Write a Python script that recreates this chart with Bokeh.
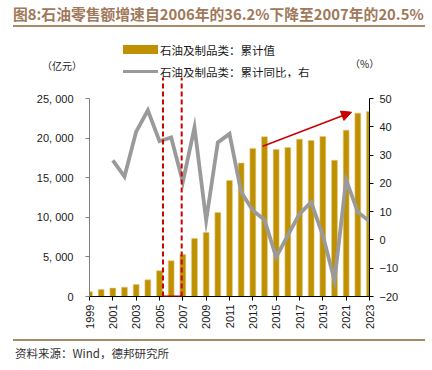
import math
from bokeh.plotting import figure
from bokeh.layouts import column
from bokeh.models import (Range1d, LinearAxis, Arrow, NormalHead, FixedTicker,
                          ColumnDataSource, Div)
from bokeh.embed import file_html
from bokeh.resources import INLINE

# ---------------- data ----------------
years = list(range(1999, 2024))
retail_value = [600, 890, 1060, 1180, 1520, 2100, 3250, 4500, 5300, 7320, 8080,
                10600, 14650, 16850, 18700, 20170, 18560, 18800, 19870, 19700,
                20200, 17200, 21000, 23150, 23360]
growth_years = list(range(2001, 2024))
yoy_growth = [28.1, 22.4, 38.3, 45.8, 34.9, 36.2, 20.5, 39.8, 6.9, 34.5, 37.5,
              16.9, 10.4, 7.1, -6.1, 1.6, 9.2, 13.3, 1.6, -14.3, 21.2, 9.8, 6.6]
left_ticks = [0, 5000, 10000, 15000, 20000, 25000]
left_tick_labels = ["0", "5, 000", "10, 000", "15, 000", "20, 000", "25, 000"]
right_ticks = [-20, -10, 0, 10, 20, 30, 40, 50]
right_tick_labels = ["\u221220", "\u221210", "0", "10", "20", "30", "40", "50"]
x_ticks = list(range(1999, 2024, 2))
title_text = "图8:石油零售额增速自2006年的36.2%下降至2007年的20.5%"
bar_label = "石油及制品类：累计值"
line_label = "石油及制品类：累计同比，右"
left_unit = "（亿元）"
right_unit = "（%）"
source_text = "资料来源：Wind，德邦研究所"
# highlighted window (2006 -> 2007) and trend arrow
box_x = [2005.3, 2006.9]
arrow_from = (2013.85, 18980)
arrow_to = (2021.46, 23270)

CJK = "Noto Sans CJK SC"
NUM = "Liberation Sans"
BAR_COLOR = "#BF9000"
LINE_COLOR = "#9A9A9A"
RED = "#C80000"
BROWN = "#A0785A"
RULE = "#A88A68"
TXT = "#1a1a1a"

# frame spans page y 77..296; 25000 / 50 sit at page y 98
left_top = 25000 * (296 - 77) / (296 - 98)
right_top = -20 + 70 * (296 - 77) / (296 - 98)
box_top = left_top


def pos(left, top, inner, extra=""):
    return (f'<div style="position:absolute;left:{left}px;top:{top}px;'
            f'white-space:nowrap;{extra}">{inner}</div>')


header_html = (
    f'<div style="position:relative;width:424px;height:77px;font-family:\'{CJK}\';'
    f'color:{TXT};">'
    + pos(13, 0, title_text,
          f"width:412px;height:27px;line-height:27px;border-bottom:2px solid {RULE};"
          f"font-weight:bold;font-size:14.8px;color:{BROWN};")
    + pos(123, 45.3, "", f"width:34.5px;height:9px;background:{BAR_COLOR};")
    + pos(160, 41.5, bar_label, "font-size:11.5px;line-height:16px;")
    + pos(123, 69.5, "", f"width:34.5px;height:3.2px;background:{LINE_COLOR};")
    + pos(160, 63.5, line_label, "font-size:11.5px;line-height:16px;")
    + pos(42, 58, left_unit, "font-size:10px;line-height:16px;")
    + pos(350, 55.5, right_unit, "font-size:10px;line-height:16px;")
    + '</div>')
header = Div(width=424, height=77, margin=0, text=header_html)

footer_html = (
    f'<div style="position:relative;width:424px;height:32px;font-family:\'{CJK}\';">'
    + pos(13, 1, "", f"width:412px;height:0px;border-top:2px solid {RULE};")
    + pos(15, 6.5, source_text, "font-size:11.5px;line-height:16px;color:#333333;")
    + '</div>')
footer = Div(width=424, height=32, margin=0, text=footer_html)

p = figure(width=424, height=261, x_range=Range1d(1999, 2023),
           y_range=Range1d(0, left_top), output_backend="svg",
           toolbar_location=None, min_border_left=89, min_border_right=55,
           min_border_top=0, min_border_bottom=42, margin=0)
p.extra_y_ranges = {"right": Range1d(-20, right_top)}
p.outline_line_color = None
p.xgrid.visible = False
p.ygrid.visible = False
p.background_fill_color = "white"
p.border_fill_color = "white"

src = ColumnDataSource(dict(x=years, top=retail_value))
bars = p.vbar(x="x", top="top", width=0.5, source=src, fill_color=BAR_COLOR,
              line_color="#E3C77A", line_width=0.6)
lsrc = ColumnDataSource(dict(x=growth_years, y=yoy_growth))
line = p.line(x="x", y="y", source=lsrc, y_range_name="right",
              line_color=LINE_COLOR, line_width=3.8, line_join="miter")

# axes
xa = p.xaxis[0]
xa.ticker = FixedTicker(ticks=x_ticks)
xa.major_label_orientation = math.pi / 2
xa.axis_line_color = "black"
xa.major_tick_line_color = "black"
xa.major_tick_out = 4
xa.major_tick_in = 0
xa.minor_tick_line_color = None
xa.major_label_text_font = NUM
xa.major_label_text_font_size = "11px"
xa.major_label_text_color = TXT
xa.major_label_standoff = 4

ya = p.yaxis[0]
ya.bounds = (0, 25000)
ya.ticker = FixedTicker(ticks=left_ticks)
ya.major_label_overrides = dict(zip(left_ticks, left_tick_labels))
ya.axis_line_color = "#7F7F7F"
ya.major_tick_line_color = "#7F7F7F"
ya.major_tick_out = 4
ya.major_tick_in = 0
ya.minor_tick_line_color = None
ya.major_label_text_font = NUM
ya.major_label_text_font_size = "11px"
ya.major_label_text_color = TXT
ya.major_label_standoff = 12

ra = LinearAxis(y_range_name="right", ticker=FixedTicker(ticks=right_ticks),
                bounds=(-20, 50))
ra.major_label_overrides = dict(zip(right_ticks, right_tick_labels))
ra.axis_line_color = "black"
ra.major_tick_line_color = "black"
ra.major_tick_out = 4
ra.major_tick_in = 0
ra.minor_tick_line_color = None
ra.major_label_text_font = NUM
ra.major_label_text_font_size = "11px"
ra.major_label_text_color = TXT
ra.major_label_standoff = 6
p.add_layout(ra, "right")

# red dashed window
for bx in box_x:
    p.add_layout(Arrow(end=None, x_start=bx, y_start=0, x_end=bx, y_end=box_top,
                       line_color=RED, line_width=2, line_dash="5 3"))
p.add_layout(Arrow(end=None, x_start=box_x[0], y_start=0, x_end=box_x[1], y_end=0,
                   line_color=RED, line_width=2))
# trend arrow
p.add_layout(Arrow(end=NormalHead(size=10, fill_color=RED, line_color=RED),
                   x_start=arrow_from[0], y_start=arrow_from[1],
                   x_end=arrow_to[0], y_end=arrow_to[1],
                   line_color=RED, line_width=1.5))

layout = column(header, p, footer, spacing=0, margin=0)
open("out.html", "w").write(file_html(layout, INLINE))
